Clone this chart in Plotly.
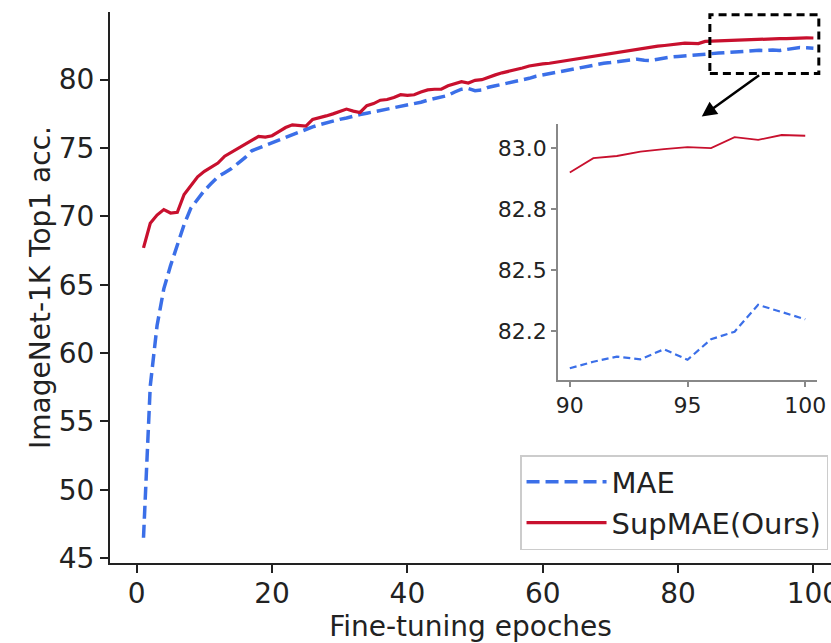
import plotly.graph_objects as go

epochs = list(range(1, 101))

mae = [46.5, 57.6, 62.0, 64.7, 66.4, 67.9, 69.4, 70.6, 71.3, 71.9,
       72.4, 72.9, 73.2, 73.5, 73.9, 74.3, 74.8, 75.0, 75.2, 75.4,
       75.6, 75.8, 75.95, 76.2, 76.4, 76.55, 76.7, 76.85, 77.0, 77.1,
       77.2, 77.35, 77.45, 77.55, 77.65, 77.75, 77.85, 77.9, 78.0, 78.1,
       78.2, 78.35, 78.5, 78.6, 78.75, 78.85, 79.1, 79.3, 79.35, 79.2,
       79.25, 79.45, 79.55, 79.65, 79.75, 79.85, 79.95, 80.1, 80.25, 80.35,
       80.45, 80.55, 80.65, 80.75, 80.85, 80.95, 81.02, 81.1, 81.2, 81.25,
       81.3, 81.38, 81.45, 81.5, 81.42, 81.4, 81.5, 81.6, 81.66, 81.7,
       81.75, 81.78, 81.82, 81.85, 81.9, 81.95, 81.98, 82.02, 82.05, 82.097,
       82.124, 82.145, 82.134, 82.175, 82.132, 82.216, 82.247, 82.357, 82.329, 82.298]

supmae = [67.7, 69.5, 70.1, 70.5, 70.25, 70.3, 71.6, 72.3, 72.9, 73.3,
          73.6, 73.9, 74.4, 74.7, 75.0, 75.3, 75.6, 75.85, 75.8, 75.9,
          76.2, 76.5, 76.7, 76.65, 76.6, 77.1, 77.2, 77.35, 77.5, 77.7,
          77.85, 77.7, 77.6, 78.1, 78.25, 78.5, 78.55, 78.7, 78.9, 78.85,
          78.9, 79.1, 79.25, 79.3, 79.3, 79.55, 79.7, 79.85, 79.75, 79.95,
          80.0, 80.2, 80.35, 80.5, 80.6, 80.75, 80.85, 81.0, 81.1, 81.15,
          81.2, 81.28, 81.32, 81.4, 81.5, 81.6, 81.65, 81.75, 81.8, 81.9,
          82.0, 82.07, 82.15, 82.25, 82.3, 82.35, 82.45, 82.5, 82.55, 82.62,
          82.68, 82.66, 82.64, 82.8, 82.82, 82.85, 82.87, 82.9, 82.9, 82.899,
          82.958, 82.967, 82.985, 82.995, 83.003, 82.999, 83.044, 83.033, 83.053, 83.05]

main_xticks = [0, 20, 40, 60, 80, 100]
main_yticks = [45, 50, 55, 60, 65, 70, 75, 80]
inset_start = 90
inset_xticks = [90, 95, 100]
inset_yticks = [82.25, 82.5, 82.75, 83.0]
inset_yticklabels = ["82.2", "82.5", "82.8", "83.0"]

RED = "#c8102e"
BLUE = "#3b6fe8"
FONT = "DejaVu Sans"

fig = go.Figure()

fig.add_trace(go.Scatter(x=epochs, y=mae, mode="lines", name="MAE",
                         line=dict(color=BLUE, width=3.5, dash="13px,6px")))
fig.add_trace(go.Scatter(x=epochs, y=supmae, mode="lines", name="SupMAE(Ours)",
                         line=dict(color=RED, width=3.2)))

i0 = epochs.index(inset_start)
fig.add_trace(go.Scatter(x=epochs[i0:], y=mae[i0:], mode="lines", showlegend=False,
                         xaxis="x2", yaxis="y2",
                         line=dict(color=BLUE, width=2.2, dash="7px,4px")))
fig.add_trace(go.Scatter(x=epochs[i0:], y=supmae[i0:], mode="lines", showlegend=False,
                         xaxis="x2", yaxis="y2",
                         line=dict(color=RED, width=1.8)))

# zoom box and arrow
box_x = [84.7, 100.8]
box_y = [80.45, 84.75]
fig.add_shape(type="rect", xref="x", yref="y", x0=box_x[0], x1=box_x[1],
              y0=box_y[0], y1=box_y[1],
              line=dict(color="black", width=3, dash="8px,5px"))
fig.add_annotation(xref="x", yref="y", axref="x", ayref="y",
                   x=83.5, y=77.3, ax=92.2, ay=80.4, text="",
                   showarrow=True, arrowhead=2, arrowsize=1.2,
                   arrowwidth=2.5, arrowcolor="black")

fig.update_layout(
    width=831, height=643,
    margin=dict(l=110, r=0, t=12, b=80),
    paper_bgcolor="white", plot_bgcolor="white",
    font=dict(family=FONT, size=28, color="#222"),
    showlegend=True,
    legend=dict(x=0.5687, y=0.196, xanchor="left", yanchor="top",
                bordercolor="#cccccc", borderwidth=1.5, bgcolor="white",
                font=dict(size=29, color="#222"), tracegroupgap=0,
                itemwidth=80),
    xaxis=dict(range=[-3.95, 102.6], tickvals=main_xticks, automargin=False,
               showgrid=False, zeroline=False, showline=True,
               linecolor="#222", linewidth=2, ticks="outside", ticklen=8,
               tickwidth=2, tickcolor="#222", ticklabeloverflow="allow",
               ticklabelstandoff=-4,
               tickfont=dict(size=28),
               title=dict(text="Fine-tuning epoches", font=dict(size=28), standoff=6)),
    yaxis=dict(range=[44.65, 84.95], tickvals=main_yticks, automargin=False,
               showgrid=False, zeroline=False, showline=True,
               linecolor="#222", linewidth=2, ticks="outside", ticklen=8,
               tickwidth=2, tickcolor="#222",
               tickfont=dict(size=28),
               title=dict(text="ImageNet-1K Top1 acc.", font=dict(size=28), standoff=0)),
    xaxis2=dict(domain=[0.6214, 0.9806], anchor="y2", range=[89.5, 100.5],
                tickvals=inset_xticks, showgrid=False, zeroline=False, automargin=False,
                showline=True, linecolor="#888", linewidth=2, ticklabeloverflow="allow",
                ticks="outside", ticklen=5, tickwidth=1.5, tickcolor="#888",
                tickfont=dict(size=22, color="#222")),
    yaxis2=dict(domain=[0.3321, 0.7967], anchor="x2", range=[82.049, 83.098],
                tickvals=inset_yticks, ticktext=inset_yticklabels, automargin=False,
                showgrid=False, zeroline=False,
                showline=True, linecolor="#888", linewidth=2,
                ticks="outside", ticklen=5, tickwidth=1.5, tickcolor="#888",
                tickfont=dict(size=22, color="#222")),
)

fig.write_html("out.html",
               config={"displayModeBar": False},
               post_script="document.body.style.margin='0';document.body.style.overflow='hidden';")
